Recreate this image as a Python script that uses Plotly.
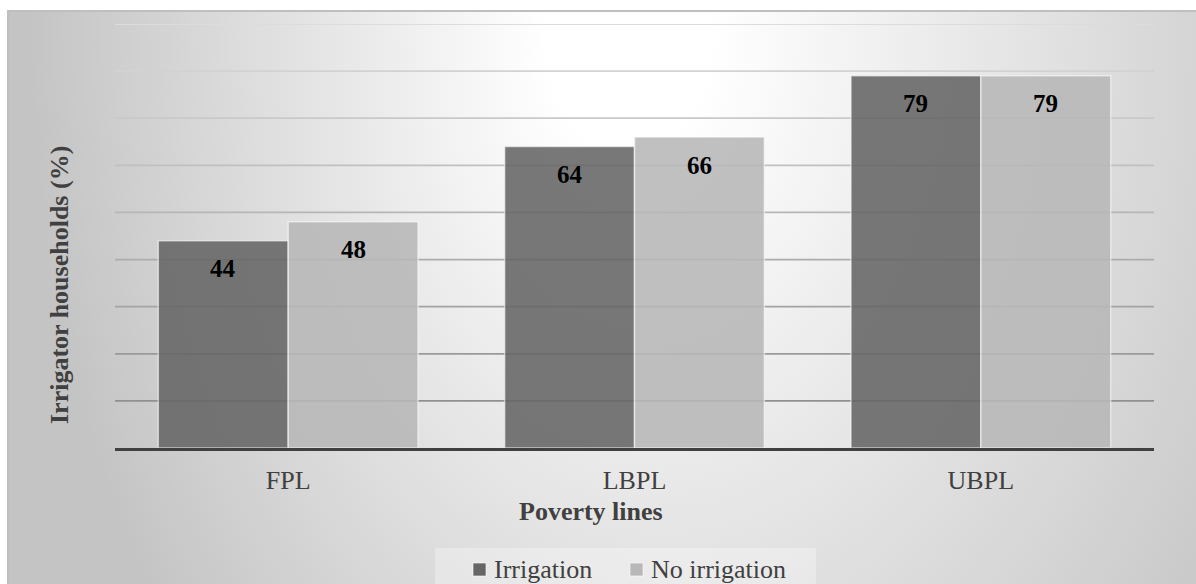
import base64
import plotly.graph_objects as go

# ---- data -------------------------------------------------------------
categories = ["FPL", "LBPL", "UBPL"]
irrigation = [44, 64, 79]
no_irrigation = [48, 66, 79]
series_names = ["Irrigation", "No irrigation"]
series_colors = ["#666666", "#b8b8b8"]
x_title = "Poverty lines"
y_title = "Irrigator households (%)"

# ---- canvas geometry (px) --------------------------------------------
W, H = 1196, 584
L, R, T, B = 115, 42, 24, 136
PW, PH = W - L - R, H - T - B
FONT = "Liberation Serif, Times New Roman, serif"
Y_MAX, Y_STEP = 90, 10


def px_x(x):
    return (x - L) / PW


def px_y(y):
    return (H - B - y) / PH


# soft radial backdrop for the chart frame
frame_x, frame_y = 8, 11
fw, fh = W - frame_x, H - frame_y
svg = f'''<svg xmlns="http://www.w3.org/2000/svg" width="{fw}" height="{fh}" viewBox="0 0 {fw} {fh}" preserveAspectRatio="none">
<defs><radialGradient id="g" gradientUnits="userSpaceOnUse" cx="700" cy="22" r="680" fx="610" fy="22"
 gradientTransform="translate(0 22) scale(1 1.45) translate(0 -22)">
<stop offset="0" stop-color="#ffffff"/><stop offset="0.12" stop-color="#ffffff"/>
<stop offset="1" stop-color="#c4c4c4"/></radialGradient></defs>
<rect width="{fw}" height="{fh}" fill="url(#g)"/></svg>'''
bg_src = "data:image/svg+xml;base64," + base64.b64encode(svg.encode()).decode()

fig = go.Figure()
for name, vals, col in zip(series_names, [irrigation, no_irrigation], series_colors):
    fig.add_trace(go.Bar(
        name=name, x=categories, y=vals,
        marker=dict(color=col, line=dict(color="rgba(255,255,255,0.6)", width=1.5)),
        opacity=0.88, showlegend=False,
    ))

# horizontal grid, fading lighter towards the top
shapes = []
levels = list(range(Y_STEP, Y_MAX + 1, Y_STEP))
for i, v in enumerate(levels):
    g = int(round(144 + (220 - 144) * i / (len(levels) - 1)))
    shapes.append(dict(type="line", xref="paper", yref="y", x0=0, x1=1, y0=v, y1=v,
                       line=dict(color=f"rgb({g},{g},{g})", width=1.8), layer="below"))

# frame outline
shapes.append(dict(type="rect", xref="paper", yref="paper",
                   x0=px_x(frame_x), x1=px_x(W + 20), y0=px_y(H + 20), y1=px_y(frame_y),
                   line=dict(color="#bfbfbf", width=2), fillcolor="rgba(0,0,0,0)", layer="below"))
# legend panel
shapes.append(dict(type="rect", xref="paper", yref="paper",
                   x0=px_x(435), x1=px_x(816), y0=px_y(H + 20), y1=px_y(548),
                   line=dict(width=0), fillcolor="rgba(255,255,255,0.3)", layer="below"))

annotations = []
offsets = [-0.1875, 0.1875]
for s, vals in enumerate([irrigation, no_irrigation]):
    for i, v in enumerate(vals):
        annotations.append(dict(x=i + offsets[s], y=v, xref="x", yref="y", text=f"<b>{v}</b>",
                                showarrow=False, yanchor="middle", yshift=-28,
                                font=dict(family=FONT, size=25, color="#000000")))

# legend entries: swatch + label
legend_swatch_x = [473, 630]
for name, col, sx in zip(series_names, series_colors, legend_swatch_x):
    shapes.append(dict(type="rect", xref="paper", yref="paper",
                       x0=px_x(sx), x1=px_x(sx + 13), y0=px_y(576), y1=px_y(563),
                       line=dict(color="rgba(255,255,255,0.6)", width=1), fillcolor=col, layer="above"))
    annotations.append(dict(x=px_x(sx + 19), y=px_y(569), xref="paper", yref="paper",
                            text=name, showarrow=False, xanchor="left", yanchor="middle",
                            font=dict(family=FONT, size=26, color="#404040")))

annotations.append(dict(x=px_x(591), y=px_y(511), xref="paper", yref="paper",
                        text=f"<b>{x_title}</b>", showarrow=False, xanchor="center", yanchor="middle",
                        font=dict(family=FONT, size=26, color="#404040")))
annotations.append(dict(x=px_x(59), y=px_y(285), xref="paper", yref="paper",
                        text=f"<b>{y_title}</b>", showarrow=False, textangle=-90,
                        xanchor="center", yanchor="middle",
                        font=dict(family=FONT, size=26, color="#404040")))

fig.update_layout(
    width=W, height=H,
    margin=dict(l=L, r=R, t=T, b=B, autoexpand=False),
    paper_bgcolor="#ffffff", plot_bgcolor="rgba(0,0,0,0)",
    barmode="group", bargap=0.25, bargroupgap=0,
    font=dict(family=FONT, size=26, color="#404040"),
    images=[dict(source=bg_src, xref="paper", yref="paper", x=px_x(frame_x), y=px_y(frame_y),
                 sizex=fw / PW, sizey=fh / PH, xanchor="left", yanchor="top",
                 sizing="stretch", layer="below")],
    shapes=shapes,
    annotations=annotations,
    showlegend=False,
    xaxis=dict(showline=True, linecolor="#404040", linewidth=3, showgrid=False, ticks="",
               ticklabelstandoff=7,
               tickfont=dict(family=FONT, size=26, color="#404040"), fixedrange=True),
    yaxis=dict(range=[0, Y_MAX], showgrid=False, zeroline=False, showticklabels=False,
               showline=False, fixedrange=True),
)

fig.write_html("out.html")
